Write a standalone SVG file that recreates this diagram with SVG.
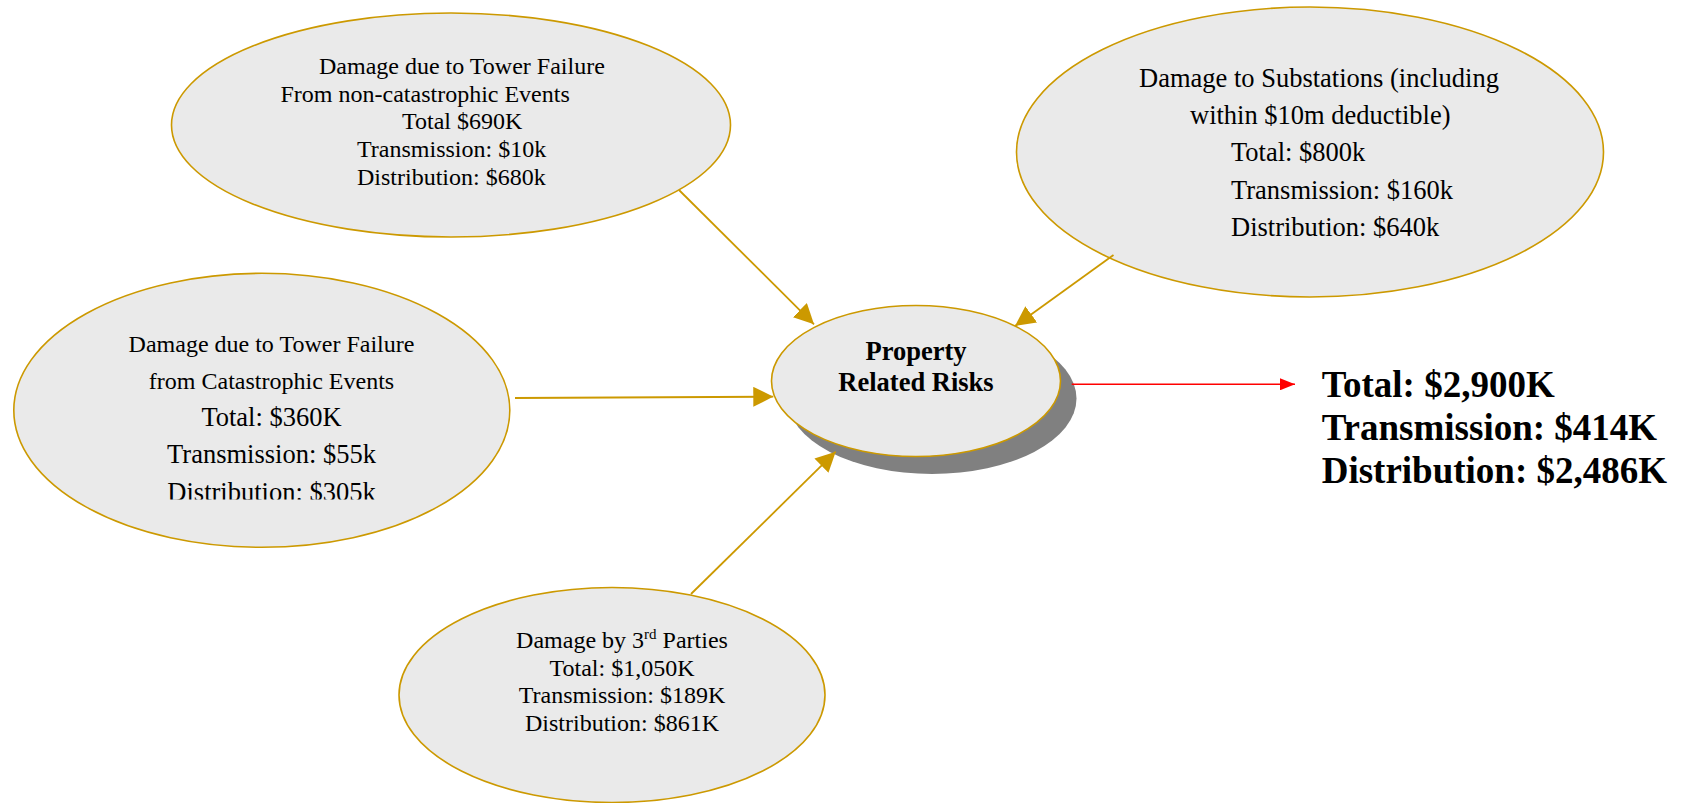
<svg xmlns="http://www.w3.org/2000/svg" width="1682" height="803" viewBox="0 0 1682 803">
  <style>
    .bubble { fill: #eaeaea; stroke: #cc9900; stroke-width: 1.6; }
    .txt { font-family: "Liberation Serif", "Times New Roman", serif; fill: #000; }
    .s24 { font-size: 24px; }
    .s26 { font-size: 26.5px; }
    .hub { font-size: 26.5px; font-weight: bold; }
    .sum { font-size: 37px; font-weight: bold; }
    .link { stroke: #cc9900; stroke-width: 1.8; fill: none; }
    .out { stroke: #ff0000; stroke-width: 1.5; fill: none; }
  </style>
  <defs>
    <marker id="goldHead" viewBox="0 0 20 20" refX="20" refY="10" markerWidth="20" markerHeight="20" markerUnits="userSpaceOnUse" orient="auto">
      <path d="M0,0 L20,10 L0,20 Z" fill="#cc9900"/>
    </marker>
    <marker id="redHead" viewBox="0 0 15 12" refX="15" refY="6" markerWidth="15" markerHeight="12" markerUnits="userSpaceOnUse" orient="auto">
      <path d="M0,0 L15,6 L0,12 Z" fill="#ff0000"/>
    </marker>
    <clipPath id="catClip">
      <rect x="0" y="0" width="600" height="499.5"/>
    </clipPath>
  </defs>

  <!-- Tower failure, non-catastrophic -->
  <g id="tower-noncat">
    <ellipse class="bubble" cx="451" cy="125" rx="279.5" ry="112"/>
    <text class="txt s24" x="319" y="74">Damage due to Tower Failure</text>
    <text class="txt s24" x="280.5" y="101.7">From non-catastrophic Events</text>
    <text class="txt s24" x="402" y="129.3">Total $690K</text>
    <text class="txt s24" x="357" y="157.2">Transmission: $10k</text>
    <text class="txt s24" x="357" y="185">Distribution: $680k</text>
  </g>

  <!-- Substations -->
  <g id="substations">
    <ellipse class="bubble" cx="1310" cy="152" rx="293.5" ry="145"/>
    <text class="txt s26" x="1139" y="87.3">Damage to Substations (including</text>
    <text class="txt s26" x="1190" y="124">within $10m deductible)</text>
    <text class="txt s26" x="1231" y="161.3">Total: $800k</text>
    <text class="txt s26" x="1231" y="199">Transmission: $160k</text>
    <text class="txt s26" x="1231" y="236">Distribution: $640k</text>
  </g>

  <!-- Tower failure, catastrophic -->
  <g id="tower-cat">
    <ellipse class="bubble" cx="261.8" cy="410.3" rx="248" ry="137"/>
    <g clip-path="url(#catClip)" text-anchor="middle">
      <text class="txt s24" x="271.5" y="352">Damage due to Tower Failure</text>
      <text class="txt s24" x="271.5" y="389.3">from Catastrophic Events</text>
      <text class="txt s26" x="271.5" y="426">Total: $360K</text>
      <text class="txt s26" x="271.5" y="463.3">Transmission: $55k</text>
      <text class="txt s26" x="271.5" y="501">Distribution: $305k</text>
    </g>
  </g>

  <!-- Third parties -->
  <g id="third-parties">
    <ellipse class="bubble" cx="612" cy="695" rx="213" ry="107.5"/>
    <g text-anchor="middle">
      <text class="txt s24" x="622" y="647.7">Damage by 3<tspan font-size="15" dy="-9">rd</tspan><tspan dy="9"> Parties</tspan></text>
      <text class="txt s24" x="622" y="675.5">Total: $1,050K</text>
      <text class="txt s24" x="622" y="703.3">Transmission: $189K</text>
      <text class="txt s24" x="622" y="731">Distribution: $861K</text>
    </g>
  </g>

  <!-- Central hub with drop shadow -->
  <g id="property-risks">
    <ellipse cx="932" cy="398.5" rx="144.5" ry="75.5" fill="#808080"/>
    <ellipse class="bubble" cx="916" cy="381" rx="144.5" ry="75.5"/>
    <text class="txt hub" x="916" y="360" text-anchor="middle">Property</text>
    <text class="txt hub" x="916" y="391" text-anchor="middle">Related Risks</text>
  </g>

  <!-- Totals -->
  <g id="totals">
    <text class="txt sum" x="1321.7" y="396.7">Total: $2,900K</text>
    <text class="txt sum" x="1321.7" y="440">Transmission: $414K</text>
    <text class="txt sum" x="1321.7" y="483.3">Distribution: $2,486K</text>
  </g>

  <!-- Connectors -->
  <g id="connectors">
    <line class="link" x1="679" y1="190" x2="814" y2="324.3" marker-end="url(#goldHead)"/>
    <line class="link" x1="1113.5" y1="255" x2="1015" y2="326" marker-end="url(#goldHead)"/>
    <line class="link" x1="515" y1="398" x2="773.3" y2="396.7" marker-end="url(#goldHead)"/>
    <line class="link" x1="691" y1="594" x2="835.7" y2="451.7" marker-end="url(#goldHead)"/>
    <line class="out" x1="1071.7" y1="384.3" x2="1295" y2="384.3" marker-end="url(#redHead)"/>
  </g>
</svg>
